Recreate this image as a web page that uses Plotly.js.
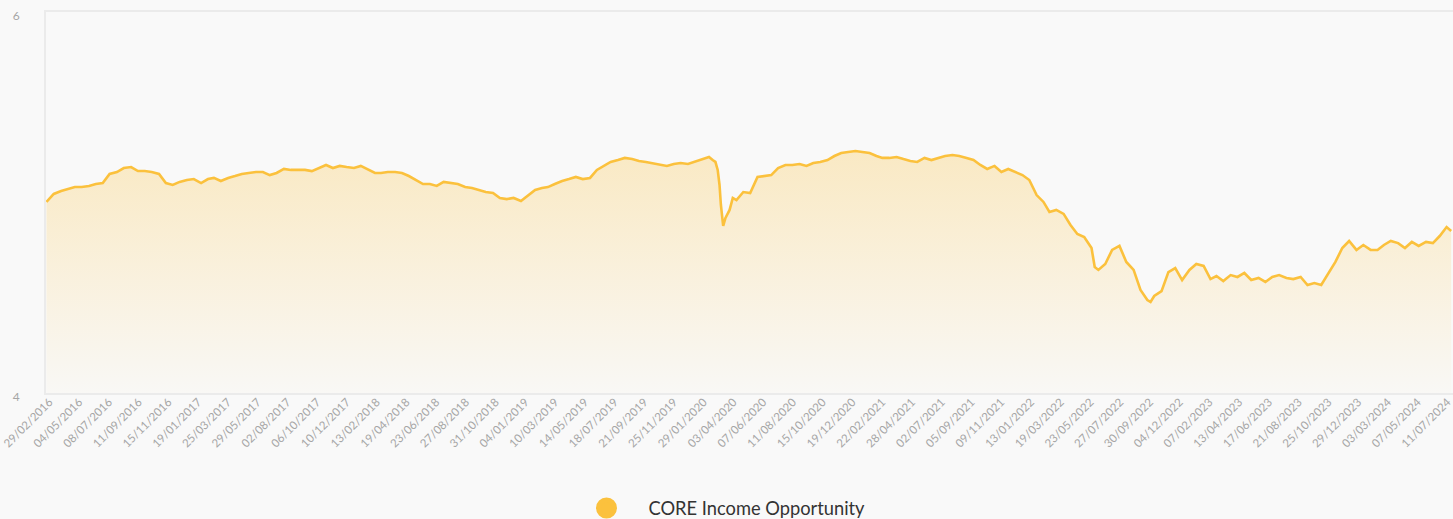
<!DOCTYPE html>
<html><head><meta charset="utf-8">
<script src="https://cdn.plot.ly/plotly-3.0.1.min.js"></script>
<style>html,body{margin:0;padding:0;background:#f9f9f9}#chart{width:1453px;height:519px}</style>
</head><body><div id="chart"></div>
<script>
const seriesName = 'CORE Income Opportunity';
const dates = [
'2016-02-29','2016-03-16','2016-04-01','2016-04-16','2016-05-01','2016-05-16','2016-06-01','2016-06-16','2016-07-01','2016-07-16','2016-08-01','2016-08-16','2016-09-01','2016-09-16','2016-10-01','2016-10-16','2016-11-01','2016-11-16','2016-12-01','2016-12-16',
'2017-01-01','2017-01-16','2017-02-01','2017-02-16','2017-03-01','2017-03-16','2017-04-01','2017-04-16','2017-05-01','2017-05-16','2017-06-01','2017-06-16','2017-07-01','2017-07-16','2017-08-01','2017-08-16','2017-09-01','2017-09-16','2017-10-01','2017-10-16','2017-11-01','2017-11-16','2017-12-01','2017-12-16',
'2018-01-01','2018-01-16','2018-02-01','2018-02-16','2018-03-01','2018-03-16','2018-04-01','2018-04-16','2018-05-01','2018-05-16','2018-06-01','2018-06-16','2018-07-01','2018-07-16','2018-08-01','2018-08-16','2018-09-01','2018-09-16','2018-10-01','2018-10-16','2018-11-01','2018-11-16','2018-12-01','2018-12-16',
'2019-01-01','2019-01-16','2019-02-01','2019-02-16','2019-03-01','2019-03-16','2019-04-01','2019-04-16','2019-05-01','2019-05-16','2019-06-01','2019-06-16','2019-07-01','2019-07-16','2019-08-01','2019-08-16','2019-09-01','2019-09-16','2019-10-01','2019-10-16','2019-11-01','2019-11-16','2019-12-01','2019-12-16',
'2020-01-01','2020-01-16','2020-02-01','2020-02-16','2020-02-24','2020-03-01','2020-03-06','2020-03-10','2020-03-13','2020-03-18','2020-03-23','2020-04-01','2020-04-08','2020-04-16','2020-05-01','2020-05-16','2020-06-01','2020-06-16','2020-07-01','2020-07-16','2020-08-01','2020-08-16','2020-09-01','2020-09-16','2020-10-01','2020-10-16','2020-11-01','2020-11-16','2020-12-01','2020-12-16',
'2021-01-01','2021-01-16','2021-02-01','2021-02-16','2021-03-01','2021-03-16','2021-04-01','2021-04-16','2021-05-01','2021-05-16','2021-06-01','2021-06-16','2021-07-01','2021-07-16','2021-08-01','2021-08-16','2021-09-01','2021-09-16','2021-10-01','2021-10-16','2021-11-01','2021-11-16','2021-12-01','2021-12-16',
'2022-01-01','2022-01-16','2022-02-01','2022-02-16','2022-03-01','2022-03-16','2022-04-01','2022-04-16','2022-05-01','2022-05-16','2022-06-01','2022-06-08','2022-06-16','2022-07-01','2022-07-16','2022-08-01','2022-08-16','2022-09-01','2022-09-16','2022-10-01','2022-10-08','2022-10-16','2022-11-01','2022-11-16','2022-12-01','2022-12-16',
'2023-01-01','2023-01-16','2023-02-01','2023-02-16','2023-03-01','2023-03-16','2023-04-01','2023-04-16','2023-05-01','2023-05-16','2023-06-01','2023-06-16','2023-07-01','2023-07-16','2023-08-01','2023-08-16','2023-09-01','2023-09-16','2023-10-01','2023-10-16','2023-11-01','2023-11-16','2023-12-01','2023-12-16',
'2024-01-01','2024-01-16','2024-02-01','2024-02-16','2024-03-01','2024-03-16','2024-04-01','2024-04-16','2024-05-01','2024-05-16','2024-06-01','2024-06-16','2024-07-01','2024-07-11','2024-07-16','2024-07-26'
];
const values = [
5.003,5.045,5.060,5.071,5.081,5.081,5.087,5.097,5.102,5.150,5.160,5.181,5.186,5.165,5.165,5.160,5.150,5.102,5.092,5.108,
5.118,5.123,5.102,5.123,5.129,5.113,5.129,5.139,5.150,5.155,5.160,5.160,5.144,5.155,5.176,5.171,5.171,5.171,5.165,5.181,5.197,5.181,5.192,5.186,
5.181,5.192,5.171,5.155,5.155,5.160,5.160,5.155,5.139,5.118,5.097,5.097,5.087,5.108,5.102,5.097,5.081,5.076,5.066,5.055,5.050,5.024,5.018,5.024,
5.008,5.034,5.066,5.076,5.081,5.097,5.113,5.123,5.134,5.123,5.129,5.171,5.192,5.213,5.223,5.234,5.228,5.218,5.213,5.207,5.202,5.192,5.202,5.207,
5.202,5.213,5.228,5.239,5.223,5.213,5.171,5.092,4.987,4.877,4.919,4.961,5.024,5.013,5.055,5.050,5.134,5.139,5.144,5.181,5.197,5.197,5.202,5.192,5.207,5.213,5.223,5.244,5.260,5.265,
5.270,5.265,5.260,5.244,5.234,5.234,5.239,5.228,5.218,5.213,5.234,5.223,5.234,5.244,5.249,5.244,5.234,5.223,5.197,5.176,5.192,5.160,5.176,5.160,
5.144,5.118,5.039,5.003,4.950,4.961,4.940,4.882,4.835,4.819,4.761,4.661,4.646,4.677,4.751,4.772,4.688,4.646,4.541,4.488,4.478,4.509,4.535,4.635,4.656,4.593,
4.646,4.677,4.667,4.598,4.614,4.588,4.619,4.609,4.630,4.593,4.604,4.583,4.609,4.619,4.604,4.598,4.609,4.567,4.577,4.567,4.630,4.688,4.761,4.798,
4.751,4.777,4.751,4.751,4.777,4.798,4.787,4.761,4.793,4.772,4.793,4.787,4.824,4.856,4.871,4.850
];
const yTickValues = [4, 6];
const firstTickDate = '2016-02-29';
const tickStepDays = 65;
const xRange = ['2016-02-28', '2024-07-30'];
const yRange = [4, 6];

const lineColor = '#fbc13d';
const traces = [
  {
    x: dates, y: values, type: 'scatter', mode: 'lines',
    line: {color: lineColor, width: 2.6, shape: 'linear'},
    fill: 'tozeroy',
    fillcolor: 'rgba(251,193,61,0.18)',
    fillgradient: {type: 'vertical', start: 4, stop: 5.35,
      colorscale: [[0, 'rgba(251,193,61,0.02)'], [1, 'rgba(251,193,61,0.30)']]},
    showlegend: false, hoverinfo: 'skip'
  },
  {
    x: [null], y: [null], type: 'scatter', mode: 'markers', name: seriesName,
    marker: {color: lineColor, size: 16, symbol: 'circle', line: {color: lineColor, width: 5}}, showlegend: true
  }
];
const layout = {
  width: 1453, height: 519,
  paper_bgcolor: '#f9f9f9', plot_bgcolor: '#f9f9f9',
  margin: {l: 46, r: 0, t: 12, b: 126},
  font: {family: 'Lato, sans-serif'},
  xaxis: {
    type: 'date', range: xRange, tick0: firstTickDate, dtick: tickStepDays * 86400000,
    tickformat: '%d/%m/%Y', tickangle: -45,
    tickfont: {family: 'Lato, sans-serif', size: 11.5, color: '#a6a6a6'},
    showgrid: false, zeroline: false, showline: true, mirror: true,
    linecolor: '#ebebeb', linewidth: 2, ticks: '',
    ticklabelstandoff: -4, ticklabelshift: 3, ticklabeloverflow: 'allow',
    automargin: false
  },
  yaxis: {
    range: yRange, tickvals: yTickValues,
    tickfont: {family: 'Lato, sans-serif', size: 12, color: '#a6a6a6'},
    showgrid: false, zeroline: false, showline: true, mirror: true,
    linecolor: '#ebebeb', linewidth: 2, ticks: 'outside', ticklen: 22, tickcolor: 'rgba(0,0,0,0)',
    ticklabelshift: 4, automargin: false
  },
  legend: {
    orientation: 'h', xref: 'container', yref: 'container', x: 0.4938, y: 0.021,
    xanchor: 'center', yanchor: 'middle', itemwidth: 74,
    font: {family: 'Lato, sans-serif', size: 18.3, color: '#333333'},
    itemsizing: 'trace', bgcolor: 'rgba(0,0,0,0)'
  },
  showlegend: true
};
Plotly.newPlot('chart', traces, layout, {displayModeBar: false, staticPlot: true});
</script>
</body></html>
